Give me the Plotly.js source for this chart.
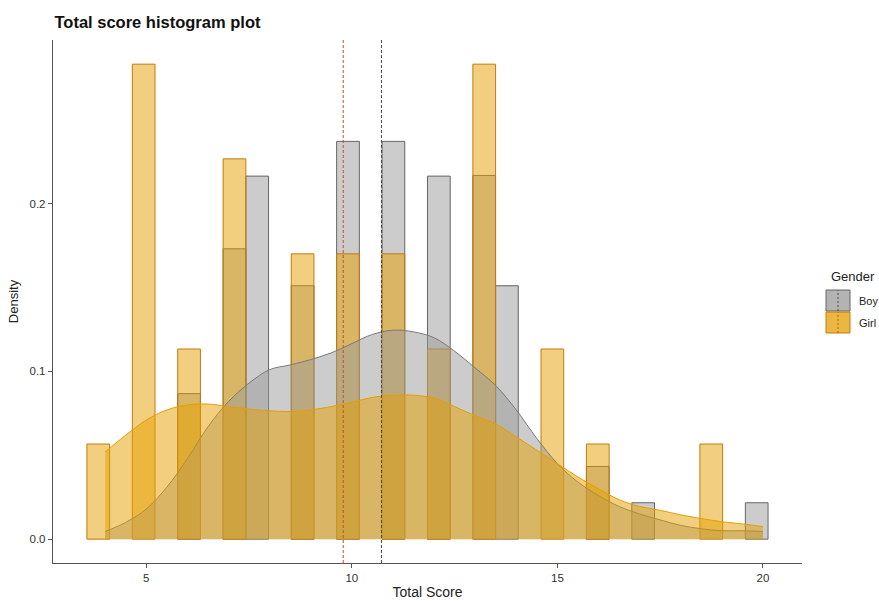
<!DOCTYPE html>
<html>
<head>
<meta charset="utf-8">
<script src="https://cdn.plot.ly/plotly-3.0.1.min.js"></script>
<style>
  html, body { margin: 0; padding: 0; background: #fff; }
  #chart { width: 879px; height: 601px; }
</style>
</head>
<body>
<div id="chart"></div>
<script>
// Histogram bins (centres, data units) and densities
const binWidth = 0.5523;
const boyBinX  = [6.040, 7.145, 7.697, 8.802, 9.906, 11.011, 12.116, 13.220, 13.772, 15.982, 17.086, 19.848];
const boyBinY  = [0.0867, 0.173, 0.2163, 0.151, 0.237, 0.237, 0.2163, 0.2167, 0.151, 0.0433, 0.0217, 0.0217];
const girlBinX = [3.831, 4.936, 6.040, 7.145, 8.802, 9.906, 11.011, 12.116, 13.220, 14.877, 15.982, 18.743];
const girlBinY = [0.0567, 0.283, 0.1133, 0.2266, 0.170, 0.170, 0.170, 0.1133, 0.283, 0.1133, 0.0567, 0.0567];

// Kernel density curves
const densX = [4.0, 4.5, 5.0, 5.5, 6.0, 6.5, 7.0, 7.5, 8.0, 8.5, 9.0, 9.5, 10.0, 10.5, 11.0, 11.5,
               12.0, 12.5, 13.0, 13.5, 14.0, 14.5, 15.0, 15.5, 16.0, 16.5, 17.0, 17.5, 18.0, 18.5, 19.0, 19.5, 20.0];
const boyDens  = [0.0046, 0.010, 0.018, 0.031, 0.048, 0.067, 0.082, 0.093, 0.101, 0.1038, 0.107, 0.111, 0.1165, 0.122, 0.1245, 0.1235,
                  0.120, 0.112, 0.102, 0.0915, 0.077, 0.060, 0.045, 0.034, 0.026, 0.0195, 0.015, 0.0115, 0.0082, 0.0062, 0.005, 0.005, 0.0046];
const girlDens = [0.052, 0.062, 0.071, 0.077, 0.080, 0.0805, 0.079, 0.0775, 0.0765, 0.076, 0.077, 0.079, 0.0815, 0.0845, 0.0857, 0.0858,
                  0.084, 0.079, 0.0735, 0.0687, 0.061, 0.053, 0.045, 0.037, 0.030, 0.0235, 0.0195, 0.0172, 0.0145, 0.0123, 0.0104, 0.0091, 0.0075];

// Group means
const boyMean = 10.72;
const girlMean = 9.79;

const groups = ['Boy', 'Girl'];
const xTicks = [5, 10, 15, 20];
const yTicks = [0.0, 0.1, 0.2];

const boyFill = 'rgba(153,153,153,0.5)';
const girlFill = 'rgba(230,159,0,0.5)';
const boyLine = '#666666';
const girlLine = '#C47A0A';
const boyMeanColor = '#4a4a4a';
const girlMeanColor = '#C0502A';

const traces = [
  {
    type: 'bar', name: 'Boy',
    x: boyBinX, y: boyBinY, width: binWidth,
    marker: { color: boyFill, line: { color: boyLine, width: 1 } },
    hoverinfo: 'x+y'
  },
  {
    type: 'bar', name: 'Girl',
    x: girlBinX, y: girlBinY, width: binWidth,
    marker: { color: girlFill, line: { color: girlLine, width: 1 } },
    hoverinfo: 'x+y'
  },
  {
    type: 'scatter', mode: 'lines', name: 'Boy density',
    x: densX, y: boyDens, fill: 'tozeroy',
    fillcolor: boyFill,
    line: { color: '#7a7a7a', width: 1, shape: 'spline', smoothing: 1 }
  },
  {
    type: 'scatter', mode: 'lines', name: 'Girl density',
    x: densX, y: girlDens, fill: 'tozeroy',
    fillcolor: girlFill,
    line: { color: '#E69F00', width: 1, shape: 'spline', smoothing: 1 }
  }
];

// Legend drawn by hand (ggplot-style large keys)
const keyFills = ['rgba(153,153,153,0.75)', 'rgba(230,159,0,0.75)'];
const keyLines = [boyLine, girlLine];
const keyMeans = [boyMeanColor, girlMeanColor];
const keyTops = [273, 251];   // pixels above the panel bottom
const legendShapes = [];
groups.forEach((g, i) => {
  legendShapes.push({
    type: 'rect', xref: 'paper', yref: 'paper', xsizemode: 'pixel', ysizemode: 'pixel',
    xanchor: 1, yanchor: 0, x0: 24, x1: 48, y0: keyTops[i] - 21, y1: keyTops[i],
    fillcolor: keyFills[i], line: { color: keyLines[i], width: 1 }
  });
  legendShapes.push({
    type: 'line', xref: 'paper', yref: 'paper', xsizemode: 'pixel', ysizemode: 'pixel',
    xanchor: 1, yanchor: 0, x0: 36, x1: 36, y0: keyTops[i] - 21, y1: keyTops[i],
    line: { color: keyMeans[i], width: 1, dash: '2px,2px' }
  });
});

const legendAnnotations = [
  { text: 'Gender', xref: 'paper', yref: 'paper', x: 1, xshift: 27, xanchor: 'left',
    y: 0, yshift: 287, yanchor: 'middle', showarrow: false,
    font: { size: 13, color: '#222222' } }
];
groups.forEach((g, i) => {
  legendAnnotations.push({
    text: g, xref: 'paper', yref: 'paper', x: 1, xshift: 55, xanchor: 'left',
    y: 0, yshift: keyTops[i] - 11, yanchor: 'middle', showarrow: false,
    font: { size: 11, color: '#222222' }
  });
});

const layout = {
  width: 879, height: 601,
  paper_bgcolor: '#ffffff', plot_bgcolor: '#ffffff',
  margin: { l: 53, r: 77, t: 40, b: 38, autoexpand: false },
  barmode: 'overlay', bargap: 0,
  showlegend: false,
  font: { family: 'Liberation Sans, Arial, sans-serif', size: 11, color: '#333333' },
  title: {
    text: 'Total score histogram plot',
    font: { family: 'Liberation Sans, Arial, sans-serif', size: 16.5, color: '#111111', weight: 'bold' },
    xref: 'container', x: 0.062, xanchor: 'left',
    yref: 'container', y: 0.963, yanchor: 'middle'
  },
  xaxis: {
    range: [2.73, 20.95],
    tickvals: xTicks, ticktext: xTicks.map(String),
    showgrid: false, zeroline: false,
    showline: true, linecolor: '#555555', linewidth: 1.2,
    ticks: 'outside', ticklen: 4, tickcolor: '#555555', tickwidth: 1,
    tickfont: { size: 11.5, color: '#333333' },
    title: { text: 'Total Score', font: { size: 14, color: '#222222' }, standoff: 4 }
  },
  yaxis: {
    range: [-0.0142, 0.2974],
    tickvals: yTicks, ticktext: yTicks.map(v => v.toFixed(1)),
    showgrid: false, zeroline: false,
    showline: true, linecolor: '#555555', linewidth: 1.2,
    ticks: 'outside', ticklen: 4, tickcolor: '#555555', tickwidth: 1,
    tickfont: { size: 11.5, color: '#333333' },
    title: { text: 'Density', font: { size: 13, color: '#222222' }, standoff: 8 }
  },
  shapes: [
    { type: 'line', xref: 'x', yref: 'paper', x0: girlMean, x1: girlMean, y0: 0, y1: 1,
      line: { color: girlMeanColor, width: 1, dash: '3px,2px' }, layer: 'above' },
    { type: 'line', xref: 'x', yref: 'paper', x0: boyMean, x1: boyMean, y0: 0, y1: 1,
      line: { color: boyMeanColor, width: 1, dash: '3px,2px' }, layer: 'above' }
  ].concat(legendShapes),
  annotations: legendAnnotations
};

Plotly.newPlot('chart', traces, layout, { displayModeBar: false, staticPlot: true });
</script>
</body>
</html>
